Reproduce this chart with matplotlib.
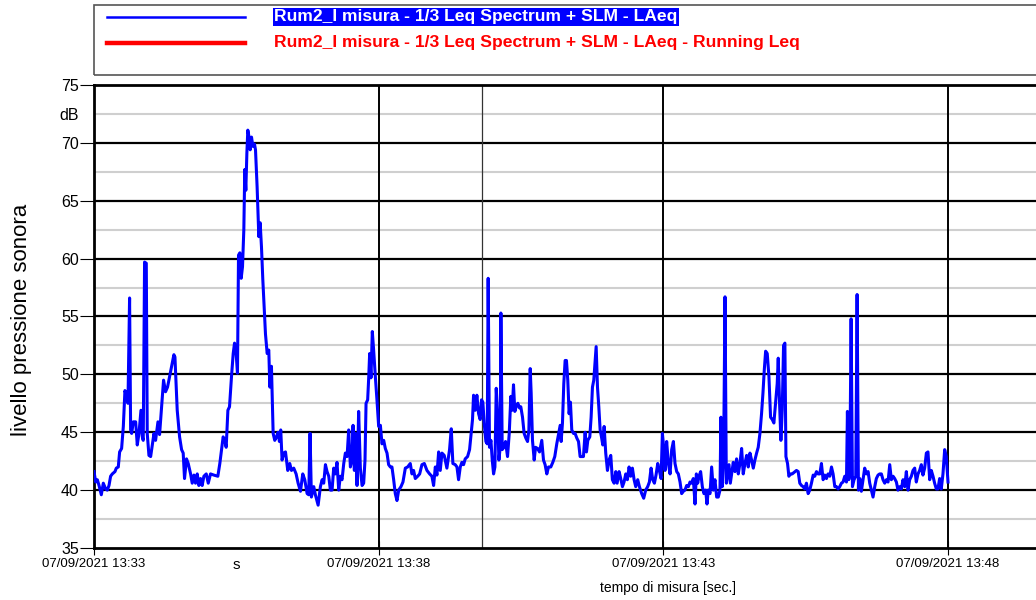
import matplotlib
matplotlib.use("Agg")
import matplotlib.pyplot as plt
from matplotlib.patches import Rectangle
from matplotlib.ticker import FixedLocator, FixedFormatter

# Data: seconds since 07/09/2021 13:33:00 -> LAeq (dB)
TIME_S = [
    0.0, 1.8, 3.5, 5.3, 7.7, 9.8, 12.3, 14.0, 15.8, 17.5, 19.3, 22.1, 23.5, 25.6, 27.0, 29.1,
    30.9, 32.6, 34.4, 35.8, 37.5, 38.6, 39.7, 41.4, 43.9, 45.6, 47.4, 49.5, 50.9, 51.9, 53.3,
    55.1, 56.1, 57.9, 59.7, 61.4, 63.2, 64.9, 67.4, 69.1, 71.2, 73.3, 75.4, 77.5, 79.6, 81.8,
    84.2, 85.3, 87.7, 90.2, 92.3, 94.0, 95.4, 97.5, 99.3, 101.8, 103.5, 105.3, 107.0, 108.8,
    110.5, 112.3, 114.0, 115.8, 118.3, 120.4, 122.8, 126.3, 130.5, 132.6, 134.4, 136.1, 137.9,
    139.3, 141.1, 142.8, 144.9, 146.7, 148.1, 149.8, 151.2, 152.3, 153.7, 155.1, 156.5, 157.9,
    158.9, 160.0, 161.1, 162.1, 163.2, 164.6, 166.0, 167.4, 169.1, 170.2, 171.9, 173.7, 175.1,
    176.5, 177.9, 179.3, 180.7, 182.5, 184.2, 185.3, 187.0, 188.8, 190.5, 192.3, 194.0, 195.4,
    196.8, 198.2, 200.0, 201.8, 204.2, 206.3, 208.1, 210.5, 213.0, 215.1, 217.6, 220.0, 222.1,
    224.6, 226.3, 227.7, 229.1, 231.6, 233.3, 236.2, 238.6, 240.4, 242.1, 243.9, 245.6, 247.4,
    # 13:37 - 13:41
    249.1, 250.9, 252.6, 254.4, 256.1, 257.9, 259.6, 261.4, 263.2, 264.9, 266.7, 268.4, 270.2,
    271.9, 273.0, 274.4, 275.4, 277.2, 278.9, 280.7, 282.5, 284.2, 285.6, 286.7, 288.4, 289.5,
    290.5, 291.9, 293.3, 294.7, 296.5, 298.2, 300.0, 301.8, 303.5, 305.3, 307.0, 308.8, 310.5,
    312.3, 314.0, 315.8, 317.5, 319.3, 321.1, 323.5, 325.6, 328.1, 330.5, 333.3, 335.1, 336.8,
    338.6, 341.1, 343.2, 345.6, 348.1, 350.9, 353.7, 356.1, 357.9, 359.7, 361.4, 363.2, 364.9,
    366.7, 369.1, 371.9, 374.7, 376.5, 378.2, 380.7, 382.5, 384.2, 386.0, 387.7, 389.5, 391.2,
    393.7, 395.8, 397.5, 398.9, 400.0, 401.8, 403.5, 405.3, 407.0, 408.4, 409.8, 411.2, 413.0,
    414.4, 415.4, 416.8, 418.3, 419.7, 421.1, 422.5, 423.9, 425.3, 426.7, 428.1, 428.8, 430.2,
    432.0, 433.7, 435.8, 437.6, 439.3, 440.7, 442.1, 443.5, 444.9, 446.7, 448.4, 449.8, 451.6,
    453.3, 455.1, 456.9, 458.3, 459.7, 460.7, 462.1, 463.9, 465.3, 467.4, 469.5, 471.9, 473.7,
    475.4, 477.2, 479.0, 481.4, 483.5, 485.6, 487.7,
    # 13:41 - 13:45
    491.3, 492.3, 493.7, 495.1, 496.5, 497.9, 499.3, 500.7, 502.1, 503.5, 505.3, 507.0, 508.8,
    510.6, 512.3, 514.1, 515.8, 517.6, 519.0, 520.4, 522.5, 523.9, 525.3, 526.7, 528.1, 529.2,
    530.6, 532.0, 533.4, 534.8, 536.2, 537.6, 539.3, 541.1, 542.8, 544.6, 546.3, 548.1, 549.9,
    551.3, 553.4, 555.1, 556.9, 558.6, 560.4, 562.1, 563.9, 565.6, 567.4, 569.2, 570.9, 573.0,
    574.8, 577.2, 579.3, 581.4, 583.5, 585.3, 587.1, 588.8, 590.6, 592.3, 594.1, 595.8, 597.6,
    599.0, 600.4, 601.8, 603.5, 605.3, 607.1, 608.8, 610.6, 612.3, 614.1, 615.8, 617.6, 619.3,
    621.1, 622.8, 624.6, 626.4, 628.1, 629.9, 631.6, 633.4, 634.8, 636.2, 637.6, 639.3, 641.1,
    642.8, 644.6, 646.0, 647.4, 649.2, 650.9, 652.7, 654.4, 656.2, 657.9, 659.7, 660.7, 662.1,
    663.5, 665.0, 666.4, 667.8, 669.2, 670.6, 672.0, 673.7, 675.5, 677.2, 679.0, 680.7, 682.5,
    684.2, 686.0, 687.8, 689.5, 691.3, 693.0, 694.8, 696.5, 698.3, 700.0, 701.8, 703.5, 705.0,
    706.4, 707.8, 709.5, 711.3, 713.0, 714.8, 716.5, 718.3, 720.0, 721.1, 722.5, 723.9, 725.3,
    726.7, 728.1, 729.2, 730.9, 732.3, 734.1, 735.8,
    # 13:45 - 13:48
    740.3, 742.1, 743.8, 745.6, 747.3, 749.1, 750.8, 752.6, 754.3, 756.1, 757.9, 759.6, 761.4,
    763.1, 764.9, 766.6, 768.4, 770.1, 771.9, 773.6, 775.4, 777.2, 778.9, 780.7, 782.4, 784.2,
    785.9, 787.7, 789.4, 791.2, 793.0, 794.0, 795.4, 796.5, 797.9, 799.3, 801.0, 802.8, 804.2,
    805.6, 807.0, 808.7, 810.5, 812.2, 814.0, 815.8, 817.5, 819.3, 821.0, 822.8, 824.5, 826.3,
    828.0, 829.8, 831.5, 833.3, 835.1, 836.8, 838.6, 840.3, 842.1, 843.8, 845.6, 847.3, 849.1,
    850.8, 852.6, 854.4, 856.1, 857.9, 859.6, 861.4, 863.1, 864.9, 866.6, 868.4, 870.1, 871.9,
    873.6, 875.4, 877.2, 878.9, 880.7, 882.4, 884.2, 885.9, 887.7, 889.4, 891.2, 892.9, 894.7,
    896.5, 898.2, 900.0,
]

LAEQ_DB = [
    41.6, 40.7, 40.9, 40.4, 39.6, 40.6, 40.1, 40.0, 40.4, 41.2, 41.4, 41.6, 41.9, 42.0, 43.3, 43.6,
    45.5, 48.6, 48.1, 47.5, 56.6, 45.2, 44.9, 45.9, 45.9, 43.9, 44.9, 46.9, 44.6, 44.3, 59.7,
    59.6, 44.9, 43.0, 42.9, 43.9, 44.9, 44.3, 45.9, 44.8, 47.2, 49.5, 48.5, 48.9, 49.8, 50.7,
    51.7, 51.5, 46.9, 44.6, 43.5, 43.2, 41.0, 42.7, 42.3, 41.4, 40.6, 41.3, 40.6, 41.4,
    40.4, 41.0, 40.4, 41.2, 41.4, 40.6, 41.4, 41.3, 41.2, 42.3, 43.5, 44.6, 44.3,
    43.7, 46.9, 47.2, 49.8, 51.8, 52.7, 51.8, 50.1, 60.3, 60.5, 58.3, 59.3, 62.5,
    67.7, 65.9, 69.1, 71.1, 70.6, 69.4, 70.5, 69.7, 69.9, 69.4, 66.2, 61.9, 63.1,
    61.0, 58.2, 55.9, 53.5, 51.8, 52.1, 48.9, 50.7, 44.9, 44.3, 44.6, 45.0, 44.2,
    45.2, 42.6, 43.2, 43.3, 41.7, 42.3, 41.7, 41.9, 41.4, 40.6, 39.9, 41.4, 40.9,
    39.7, 39.6, 44.9, 39.4, 40.3, 39.6, 38.7, 40.3, 40.9, 40.6, 42.2, 41.6, 41.2,
    # 13:37 - 13:41
    40.0, 40.0, 41.9, 41.4, 42.4, 40.0, 41.2, 40.9, 42.3, 43.2, 42.9, 45.2, 42.0,
    42.6, 45.6, 41.7, 44.9, 40.4, 46.8, 41.9, 40.4, 40.6, 42.6, 47.5, 47.8, 49.7,
    51.8, 49.7, 53.7, 52.1, 49.8, 47.8, 45.5, 45.6, 44.0, 44.3, 43.6, 43.2, 42.2,
    42.0, 42.0, 40.9, 39.7, 39.1, 40.0, 40.3, 40.7, 41.9, 42.0, 42.3, 41.4, 41.7,
    41.0, 41.2, 41.4, 42.2, 42.3, 41.7, 41.4, 41.2, 40.4, 42.0, 41.3, 43.3, 41.7,
    43.2, 43.0, 41.9, 43.5, 45.3, 42.3, 42.2, 42.0, 40.9, 42.0, 42.4, 42.2, 42.7,
    42.9, 43.5, 44.9, 46.1, 48.2, 46.9, 48.2, 46.6, 46.1, 47.8, 47.6, 45.8, 44.2,
    44.0, 58.3, 43.7, 44.3, 42.6, 41.4, 42.0, 48.8, 46.6, 42.6, 43.7, 55.3, 43.5,
    43.7, 44.2, 42.9, 44.9, 48.1, 46.9, 49.1, 46.8, 47.2, 47.5, 47.1, 47.2, 46.3,
    44.9, 44.5, 44.2, 45.2, 50.5, 48.4, 44.3, 42.6, 43.7, 43.6, 43.3, 44.3, 42.6,
    42.2, 41.4, 42.0, 42.0, 42.4, 42.9, 44.0,
    # 13:41 - 13:45
    45.6, 44.2, 45.8, 49.2, 51.2, 51.2, 49.5, 46.6, 47.6, 45.2, 44.9, 44.9, 44.5,
    44.2, 42.9, 42.9, 42.9, 45.0, 43.3, 44.3, 44.6, 46.3, 48.9, 49.5, 51.2, 52.4,
    48.9, 47.2, 45.2, 44.6, 43.9, 45.5, 43.2, 41.7, 42.6, 43.0, 40.9, 40.6, 41.6,
    40.6, 41.6, 41.0, 40.3, 40.7, 41.4, 40.9, 42.0, 41.2, 41.9, 40.9, 40.3, 40.9,
    40.3, 39.7, 39.3, 40.0, 40.3, 40.7, 41.9, 40.9, 40.6, 41.3, 42.3, 41.7, 41.0,
    44.9, 43.7, 41.7, 44.2, 42.3, 41.4, 43.5, 44.2, 42.3, 41.6, 41.4, 40.7, 39.7,
    39.9, 40.0, 40.4, 40.3, 40.7, 40.6, 41.0, 38.8, 41.4, 40.6, 41.2, 41.6, 40.3,
    39.7, 40.0, 38.8, 40.0, 39.7, 42.0, 40.0, 40.9, 39.4, 39.4, 40.0, 46.3, 40.3,
    42.6, 56.7, 40.6, 41.4, 42.2, 40.6, 41.4, 42.4, 41.6, 42.7, 41.4, 42.3, 43.6,
    41.4, 42.3, 43.0, 42.0, 43.2, 42.6, 41.9, 42.6, 43.2, 43.7, 44.9, 46.6, 48.4,
    50.4, 52.0, 51.8, 49.8, 46.3, 46.1, 45.8, 47.5, 49.2, 51.4, 47.5, 44.3, 46.9,
    52.5, 52.7, 42.9, 42.3, 41.2, 41.4, 41.4,
    # 13:45 - 13:48
    41.7, 41.6, 40.6, 40.4, 40.3, 40.1, 40.6, 39.7, 40.0, 40.6, 41.3, 41.2, 41.6,
    41.4, 41.4, 42.3, 40.9, 41.3, 41.0, 41.4, 41.2, 42.0, 41.4, 40.3, 40.3, 40.1,
    40.3, 40.6, 40.7, 41.2, 40.7, 46.8, 40.9, 41.4, 54.8, 40.3, 40.9, 41.2, 56.9,
    40.0, 41.0, 39.9, 40.9, 41.9, 41.4, 41.6, 40.6, 40.0, 39.4, 40.3, 41.0, 41.3,
    41.4, 41.4, 40.9, 40.6, 40.9, 40.7, 42.2, 40.9, 41.2, 41.0, 40.7, 40.0, 40.3,
    40.1, 40.9, 40.3, 41.6, 40.0, 40.9, 41.2, 41.7, 41.9, 40.7, 41.4, 41.7, 42.2,
    41.3, 41.9, 43.2, 43.3, 40.9, 41.7, 41.2, 40.6, 40.1, 40.1, 41.0, 40.1, 41.4,
    43.5, 42.9, 40.7,
]

X_TICKS = [0, 300, 600, 900]
X_LABELS = ["07/09/2021 13:33", "07/09/2021 13:38", "07/09/2021 13:43", "07/09/2021 13:48"]
Y_TICKS = [35, 40, 45, 50, 55, 60, 65, 70, 75]
CURSOR_S = 408.4
LEGEND = ["Rum2_I misura - 1/3 Leq Spectrum + SLM - LAeq",
          "Rum2_I misura - 1/3 Leq Spectrum + SLM - LAeq - Running Leq"]

FONT = ["Liberation Sans", "DejaVu Sans"]
W, H = 1036, 600

fig = plt.figure(figsize=(W / 100, H / 100), dpi=100)
fig.patch.set_facecolor("white")

# Axes: left edge at 94px, bottom at 548px, top at 85px, runs off the right edge
AX_L, AX_W = 94, 962
ax = fig.add_axes([AX_L / W, (H - 548) / H, AX_W / W, (548 - 85) / H])
ax.set_xlim(0, AX_W * 900 / (948 - AX_L))
ax.set_ylim(35, 75)

ax.plot(TIME_S, LAEQ_DB, color="#0000ff", lw=2.2, solid_joinstyle="round", zorder=3)

# Grid
ax.yaxis.set_major_locator(FixedLocator(Y_TICKS))
ax.yaxis.set_major_formatter(FixedFormatter([str(v) for v in Y_TICKS]))
ax.yaxis.set_minor_locator(FixedLocator([72.5]))
ax.yaxis.set_minor_formatter(FixedFormatter(["dB"]))
for y in range(40, 75, 5):
    ax.axhline(y, color="black", lw=1.6, zorder=1)
for y in [37.5, 42.5, 47.5, 52.5, 57.5, 62.5, 67.5, 72.5]:
    ax.axhline(y, color="#cfcfcf", lw=1.5, zorder=0.5)
for x in X_TICKS[1:]:
    ax.axvline(x, color="black", lw=1.4, zorder=1)
ax.axvline(CURSOR_S, color="#333333", lw=0.9, zorder=1)

ax.set_xticks(X_TICKS)
ax.set_xticklabels(X_LABELS, family=FONT, fontsize=9.5)
for lab in ax.get_yticklabels(which="both"):
    lab.set_family(FONT)
    lab.set_fontsize(11.5)
ax.tick_params(axis="y", which="major", length=10, width=0.8, pad=1)
ax.tick_params(axis="y", which="minor", length=0, pad=11)
ax.tick_params(axis="x", length=10, width=0.8, pad=2, direction="inout")
ax.text(150, -0.022, "s", transform=ax.get_xaxis_transform(), ha="center", va="top",
        family=FONT, fontsize=11)

for side in ["left", "bottom", "top"]:
    ax.spines[side].set_linewidth(2)
    ax.spines[side].set_color("black")
ax.spines["right"].set_visible(False)

fig.text(668 / W, 1 - 588 / H, "tempo di misura [sec.]", ha="center", va="center",
         family=FONT, fontsize=10)
fig.text(22 / W, 1 - 320 / H, "livello pressione sonora", rotation=90, ha="center",
         va="center", fontsize=16, family=FONT)

# Legend box
fig.patches.append(Rectangle((94 / W, 1 - 75 / H), 1.0, 70 / H, transform=fig.transFigure,
                             fill=False, edgecolor="#555555", lw=1.2))
fig.add_artist(plt.Line2D([107 / W, 245 / W], [1 - 17 / H, 1 - 17 / H], color="#0000ff", lw=1.8))
fig.add_artist(plt.Line2D([107 / W, 245 / W], [1 - 43 / H, 1 - 43 / H], color="#ff0000", lw=3.2))
fig.text(274 / W, 1 - 17 / H, LEGEND[0], color="white", fontsize=12.6, fontweight="bold",
         family=FONT, va="center",
         bbox=dict(boxstyle="square,pad=0.08", facecolor="#0000ff", edgecolor="none"))
fig.text(274 / W, 1 - 43 / H, LEGEND[1], color="#ff0000", fontsize=12.6, fontweight="bold",
         family=FONT, va="center")

fig.savefig("out.png", dpi=100)
